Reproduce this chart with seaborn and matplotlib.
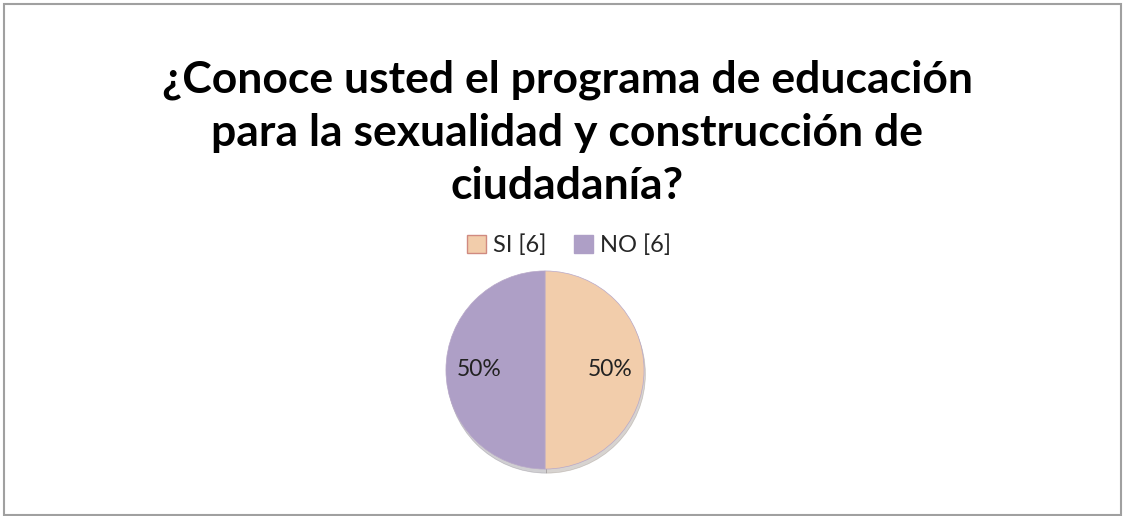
import matplotlib
matplotlib.use("Agg")
import matplotlib.pyplot as plt
import seaborn as sns
from matplotlib.patches import Rectangle, Patch

categories = ["SI", "NO"]
values = [6, 6]
colors = ["#F2CDAB", "#AE9FC6"]
title = "¿Conoce usted el programa de educación\npara la sexualidad y construcción de\nciudadanía?"

sns.set_theme(style="white")
plt.rcParams['font.family'] = ['Lato', 'DejaVu Sans']

W, H = 1126, 516
fig = plt.figure(figsize=(W/100, H/100), dpi=100)
fig.patch.set_facecolor("white")

# outer frame
fig.patches.append(Rectangle((4/W, 1/H), (W-9)/W, (H-5)/H, transform=fig.transFigure,
                             fill=False, edgecolor="#A0A0A0", linewidth=1.5))

fig.text(567/W, 1-133/H, title, ha="center", va="center", fontsize=32,
         fontweight="bold", linespacing=1.4, color="black")

cx, cy, r = 545, 370, 99
ax = fig.add_axes([(cx-r-5)/W, 1-(cy+r+5)/H, (2*r+10)/W, (2*r+10)/H])
wedges, texts, autotexts = ax.pie(values, colors=colors, startangle=90, counterclock=False,
       autopct=lambda p: f"{p:.0f}%", pctdistance=0.66,
       shadow={'ox': 0.01, 'oy': -0.03, 'alpha': 0.25, 'shade': 0.6},
       wedgeprops=dict(edgecolor="#b8a8c8", linewidth=0.5),
       textprops=dict(fontsize=16.5, color="#222222", family=['Lato', 'DejaVu Sans']))
ax.set_xlim(-1.05, 1.05)
ax.set_ylim(-1.05, 1.05)
ax.set_aspect("equal")
ax.axis("off")

handles = [Patch(facecolor=colors[0], edgecolor="#D08A80", label=f"{categories[0]} [{values[0]}]"),
           Patch(facecolor=colors[1], edgecolor=colors[1], label=f"{categories[1]} [{values[1]}]")]
fig.legend(handles=handles, loc="center", bbox_to_anchor=(569/W, 1-245/H), ncol=2,
           frameon=False, fontsize=17, handlelength=0.8, handleheight=0.8,
           handletextpad=0.3, columnspacing=1.2)

fig.savefig("out.png", dpi=100)
